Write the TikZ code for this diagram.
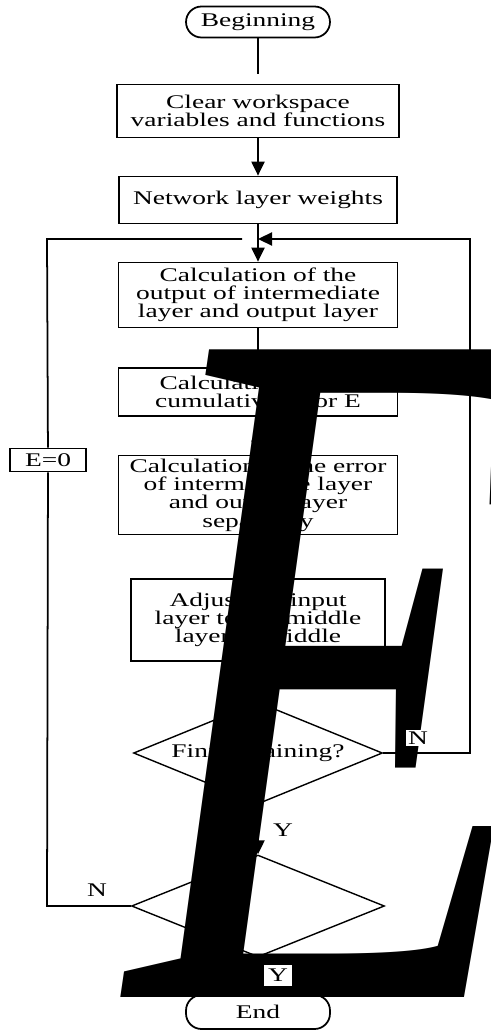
\documentclass[tikz,border=0pt]{standalone}
\usepackage{fontspec}
\setmainfont{Liberation Serif}[FakeStretch=1.42]
\newfontfamily\bigletter{Liberation Serif}[FakeStretch=0.665, FakeSlant=0.02]
\usetikzlibrary{arrows.meta, shapes.geometric}

\begin{document}
\begin{tikzpicture}
[x=0.02cm, y=-0.02cm, line width=1pt,
font=\fontsize{11}{10.4}\selectfont,
every node/.style={draw, align=center, inner sep=0pt},
stepbox/.style={rectangle, minimum width=5.58cm},
terminal/.style={rectangle, rounded corners=0.31cm, minimum width=2.88cm, minimum height=0.62cm},
decision/.style={diamond, aspect=2.44, line width=0.8pt, minimum width=4.98cm, minimum height=2.04cm},
tag/.style={draw=none, font=\fontsize{11}{11}\selectfont}
]

\useasboundingbox (0,0) rectangle (490,1030);

\path
node[terminal] (begin) at (258,22) {Beginning}
node[stepbox, minimum width=5.64cm, minimum height=1.06cm] (clear) at (258,111) {Clear workspace\\variables and functions}
node[stepbox, minimum width=5.56cm, minimum height=0.94cm] (weights) at (258,200) {Network layer weights}
node[stepbox, minimum height=1.3cm] (output) at (258,295) {Calculation of the\\output of intermediate\\layer and output layer}
node[stepbox, minimum height=0.96cm] (cumerr) at (258,392) {Calculation of the\\cumulative error E}
node[stepbox, minimum height=1.58cm] (seperr) at (258,495) {Calculation of the error\\of intermediate layer\\and output layer\\separately}
node[stepbox, minimum width=5.08cm, minimum height=1.64cm] (adjust) at (258,620) {Adjust the input\\layer to the middle\\layer to middle}
node[decision] (finish) at (258,753) {Finish training?}
node[decision, minimum width=5.06cm] (check) at (258,906) {}
node[terminal, minimum height=0.68cm] (end) at (258,1012) {End}
node[rectangle, minimum width=1.52cm, minimum height=0.46cm] (reset) at (48,460) {E=0}
;

\coordinate (join) at (258,239);
\coordinate (lend) at (242,239);
\coordinate (rtop) at (470,239);
\coordinate (lbot) at (47,906);

% main flow
\draw[shorten >=0.2cm] (begin) -- (clear);
\begin{scope}[-{Triangle[length=8pt,width=7.5pt]}]
\draw (clear) -- (weights);
\draw (weights) -- (output);
\draw (output) -- (cumerr);
\draw (cumerr) -- (seperr);
\draw (seperr) -- (adjust);
\draw (adjust) -- (finish);
\draw (finish) -- (check);
\draw (check) -- (end);
\draw (finish.east) -| (rtop) -- (join);
\end{scope}

% loop back
\draw (check.west) -- (lbot) -- (reset) -- (lbot |- join) -- (lend);

\node[draw=none, inner sep=0pt, anchor=base west, font=\bigletter\itshape\fontsize{563}{563}\selectfont] (bigE) at (128,997) {E};

\node[tag, fill=white, inner sep=1pt] (n1) at (418,738) {N};
\node[tag] (y1) at (283,830) {Y};
\node[tag] (n2) at (97,890) {N};
\node[tag, fill=white, minimum width=0.56cm, minimum height=0.42cm] (y2) at (278,975) {Y};

\end{tikzpicture}
\end{document}
